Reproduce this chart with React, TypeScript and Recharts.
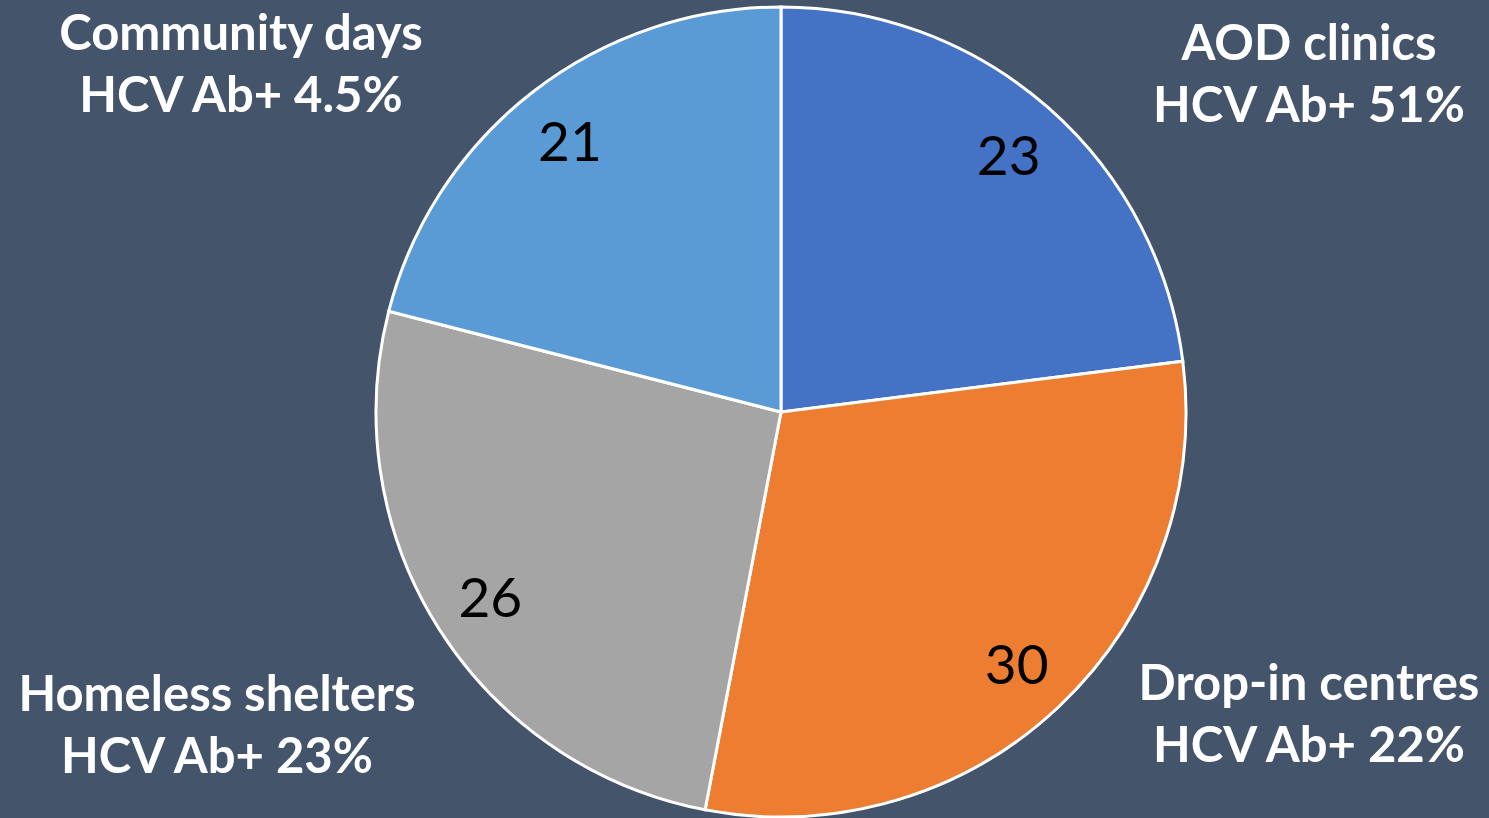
import { PieChart, Pie, Cell } from "recharts";

const SETTINGS = ["AOD clinics", "Drop-in centres", "Homeless shelters", "Community days"];
const PARTICIPANTS = [23, 30, 26, 21];
const HCV_AB_POSITIVE = ["51%", "22%", "23%", "4.5%"];

const COLORS = ["#4472C4", "#ED7D31", "#A5A5A5", "#5B9BD5"];
const BG = "#44546A";

// where the setting name sits (first baseline), relative to the pie centre
const OUTER_LABEL_OFFSETS = [
  { dx: 528, dy: -352 },
  { dx: 528, dy: 288 },
  { dx: -564, dy: 299 },
  { dx: -540, dy: -362 },
];

const data = SETTINGS.map((name, i) => ({
  name,
  value: PARTICIPANTS[i],
  hcv: HCV_AB_POSITIVE[i],
}));

const RADIAN = Math.PI / 180;

function renderLabel(props: any) {
  const { cx, cy, midAngle, outerRadius, index, value, payload } = props;
  const r = outerRadius * 0.85;
  const x = cx + r * Math.cos(-midAngle * RADIAN);
  const y = cy + r * Math.sin(-midAngle * RADIAN);
  const off = OUTER_LABEL_OFFSETS[index];
  const lx = cx + off.dx;
  const ly = cy + off.dy;
  return (
    <g>
      <text
        x={x}
        y={y}
        textAnchor="middle"
        dominantBaseline="central"
        fill="#000"
        fontSize={55}
        fontFamily="Lato, sans-serif"
      >
        {value}
      </text>
      <text
        x={lx}
        y={ly}
        textAnchor="middle"
        fill="#fff"
        fontSize={49}
        fontWeight="bold"
        fontFamily="Lato, sans-serif"
      >
        <tspan x={lx} dy={0}>{payload.name}</tspan>
        <tspan x={lx} dy={62}>HCV Ab+ {payload.hcv}</tspan>
      </text>
    </g>
  );
}

export default function App() {
  return (
    <div
      style={{
        position: "absolute",
        left: 0,
        top: 0,
        width: 1489,
        height: 818,
        background: BG,
      }}
    >
      <PieChart width={1489} height={818} margin={{ top: 0, right: 0, bottom: 0, left: 0 }}>
        <Pie
          data={data}
          dataKey="value"
          nameKey="name"
          cx={781}
          cy={412}
          outerRadius={405}
          startAngle={90}
          endAngle={-270}
          stroke="#fff"
          strokeWidth={3}
          label={renderLabel}
          labelLine={false}
          isAnimationActive={false}
        >
          {data.map((d, i) => (
            <Cell key={d.name} fill={COLORS[i]} />
          ))}
        </Pie>
      </PieChart>
    </div>
  );
}
